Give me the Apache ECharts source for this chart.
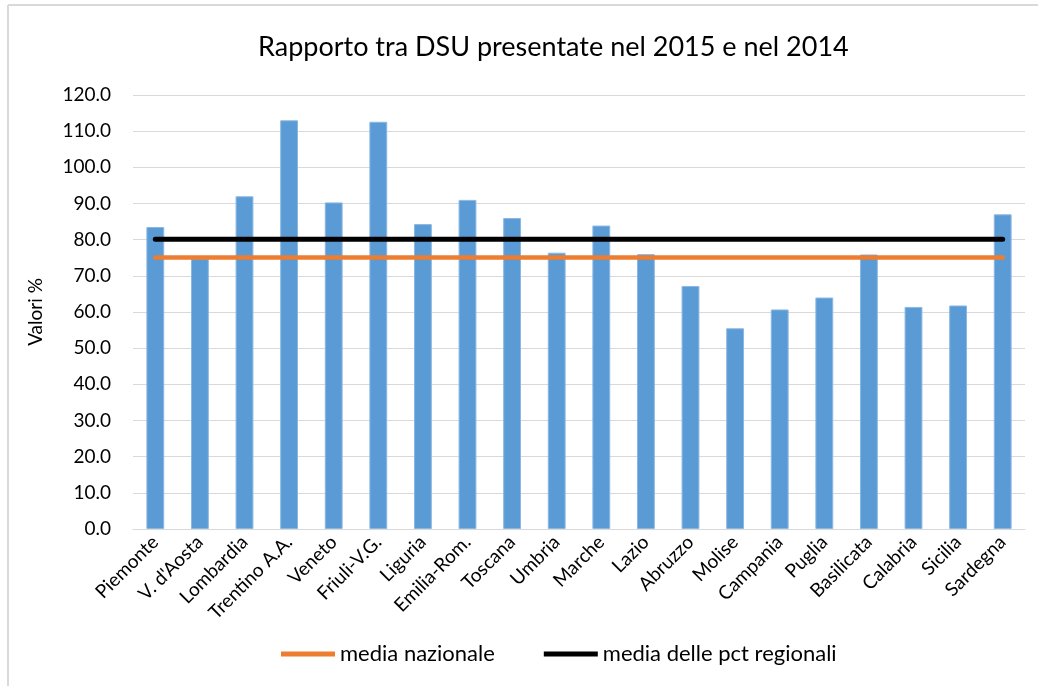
<!DOCTYPE html>
<html>
<head>
<meta charset="utf-8">
<script src="https://cdn.jsdelivr.net/npm/echarts@6/dist/echarts.min.js"></script>
<style>html,body{margin:0;padding:0;background:#fff;}#c{width:1038px;height:686px;}</style>
</head>
<body>
<div id="c"></div>
<script>
const categories = ["Piemonte","V. d'Aosta","Lombardia","Trentino A.A.","Veneto","Friuli-V.G.","Liguria","Emilia-Rom.","Toscana","Umbria","Marche","Lazio","Abruzzo","Molise","Campania","Puglia","Basilicata","Calabria","Sicilia","Sardegna"];
const rapporto = [83.5, 74.8, 92.0, 113.0, 90.3, 112.6, 84.3, 91.0, 86.0, 76.4, 83.9, 76.0, 67.2, 55.5, 60.7, 64.0, 75.9, 61.4, 61.8, 87.0];
const mediaNazionale = [75.1,75.1,75.1,75.1,75.1,75.1,75.1,75.1,75.1,75.1,75.1,75.1,75.1,75.1,75.1,75.1,75.1,75.1,75.1,75.1];
const mediaRegionali = [80.1,80.1,80.1,80.1,80.1,80.1,80.1,80.1,80.1,80.1,80.1,80.1,80.1,80.1,80.1,80.1,80.1,80.1,80.1,80.1];
const yTicks = {min: 0, max: 120, interval: 10};

const FONT = 'Lato';
const chart = echarts.init(document.getElementById('c'), null, {renderer: 'canvas'});
chart.setOption({
  animation: false,
  backgroundColor: '#fff',
  textStyle: {fontFamily: FONT},
  title: {
    text: 'Rapporto tra DSU presentate nel 2015 e nel 2014',
    left: 253, top: 29,
    textStyle: {fontFamily: FONT, fontSize: 27, fontWeight: 'normal', color: '#000'}
  },
  legend: {
    bottom: 16, left: 276,
    itemWidth: 54, itemHeight: 5, itemGap: 49,
    data: [{name: 'media nazionale', icon: 'rect'}, {name: 'media delle pct regionali', icon: 'rect'}],
    textStyle: {fontFamily: FONT, fontSize: 22, color: '#000'}
  },
  grid: {left: 133, right: 13, top: 95, bottom: 157},
  xAxis: {
    type: 'category', data: categories, boundaryGap: true,
    axisLine: {lineStyle: {color: '#d9d9d9', width: 1}},
    axisTick: {show: false},
    axisLabel: {rotate: 45, interval: 0, fontFamily: FONT, fontSize: 19, color: '#000', margin: 10}
  },
  yAxis: {
    type: 'value', min: yTicks.min, max: yTicks.max, interval: yTicks.interval,
    name: 'Valori %', nameLocation: 'middle', nameGap: 88, nameRotate: 90,
    nameTextStyle: {fontFamily: FONT, fontSize: 19, color: '#000'},
    axisLine: {show: false}, axisTick: {show: false},
    axisLabel: {formatter: v => v.toFixed(1), fontFamily: FONT, fontSize: 19, color: '#000', margin: 22},
    splitLine: {lineStyle: {color: '#d9d9d9', width: 1}}
  },
  series: [
    {
      name: 'Rapporto', type: 'bar', data: rapporto, barWidth: '40%',
      itemStyle: {color: '#5B9BD5', borderColor: '#8ab8e3', borderWidth: 1},
      z: 2
    },
    {
      name: 'media nazionale', type: 'line', data: mediaNazionale,
      symbol: 'none', lineStyle: {color: '#ED7D31', width: 4.5, cap: 'round'},
      itemStyle: {color: '#ED7D31'}, z: 3
    },
    {
      name: 'media delle pct regionali', type: 'line', data: mediaRegionali,
      symbol: 'none', lineStyle: {color: '#000', width: 5, cap: 'round'},
      itemStyle: {color: '#000'}, z: 4
    }
  ],
  graphic: [
    {type: 'line', shape: {x1: 8, y1: 5, x2: 1038, y2: 5}, style: {stroke: '#d9d9d9', lineWidth: 2}, silent: true},
    {type: 'line', shape: {x1: 8, y1: 5, x2: 8, y2: 686}, style: {stroke: '#d9d9d9', lineWidth: 2}, silent: true}
  ]
});
</script>
</body>
</html>
